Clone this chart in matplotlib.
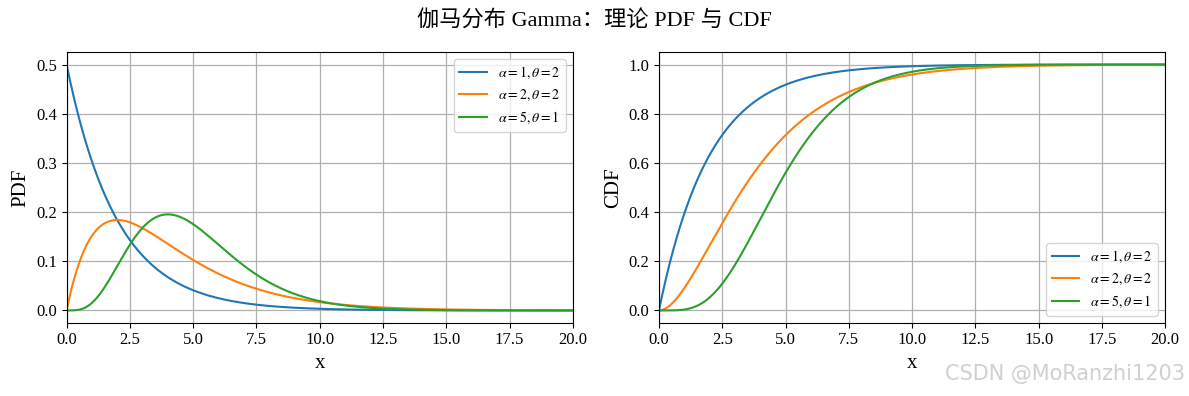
import numpy as np
import matplotlib
matplotlib.use("Agg")
import matplotlib.pyplot as plt
from math import gamma as gamma_fn

plt.rcParams['font.family'] = ['Liberation Serif', 'Noto Sans CJK SC', 'DejaVu Sans']
plt.rcParams['mathtext.fontset'] = 'stix'

alphas = [1, 2, 5]
thetas = [2, 2, 1]
colors = ['#1f77b4', '#ff7f0e', '#2ca02c']
x_max = 20
x_ticks = [0.0, 2.5, 5.0, 7.5, 10.0, 12.5, 15.0, 17.5, 20.0]

x = np.linspace(0, x_max, 1000)


def gamma_pdf(x, a, th):
    return x ** (a - 1) * np.exp(-x / th) / (gamma_fn(a) * th ** a)


def gamma_cdf(x, a, th):
    # integer shape: regularized lower incomplete gamma
    z = x / th
    s = np.zeros_like(z)
    term = np.ones_like(z)
    for k in range(int(a)):
        if k > 0:
            term = term * z / k
        s = s + term
    return 1 - np.exp(-z) * s


fig, axes = plt.subplots(1, 2, figsize=(11.89, 3.96), dpi=100)
fig.subplots_adjust(left=0.056, right=0.98, top=0.868, bottom=0.185, wspace=0.17)
fig.suptitle('伽马分布 Gamma：理论 PDF 与 CDF', fontsize=16, y=0.975)

for a, th, c in zip(alphas, thetas, colors):
    lbl = r'$\alpha=%d,\theta=%d$' % (a, th)
    axes[0].plot(x, gamma_pdf(x, a, th), color=c, label=lbl, lw=1.5)
    axes[1].plot(x, gamma_cdf(x, a, th), color=c, label=lbl, lw=1.5)

axes[0].set_ylabel('PDF', fontsize=15)
axes[1].set_ylabel('CDF', fontsize=15)
for ax in axes:
    ax.set_xlabel('x', fontsize=15)
    ax.set_xlim(0, x_max)
    ax.set_xticks(x_ticks)
    ax.grid(True, color='#b0b0b0', lw=0.9)
    ax.tick_params(labelsize=12)
axes[0].legend(loc='upper right', fontsize=10)
axes[1].legend(loc='lower right', fontsize=10)
axes[1].set_yticks([0.0, 0.2, 0.4, 0.6, 0.8, 1.0])

fig.text(0.997, 0.03, 'CSDN @MoRanzhi1203', ha='right', va='bottom',
         fontsize=15, color='#d0d0d0', family=['DejaVu Sans'])

fig.savefig('out.png', dpi=100)
